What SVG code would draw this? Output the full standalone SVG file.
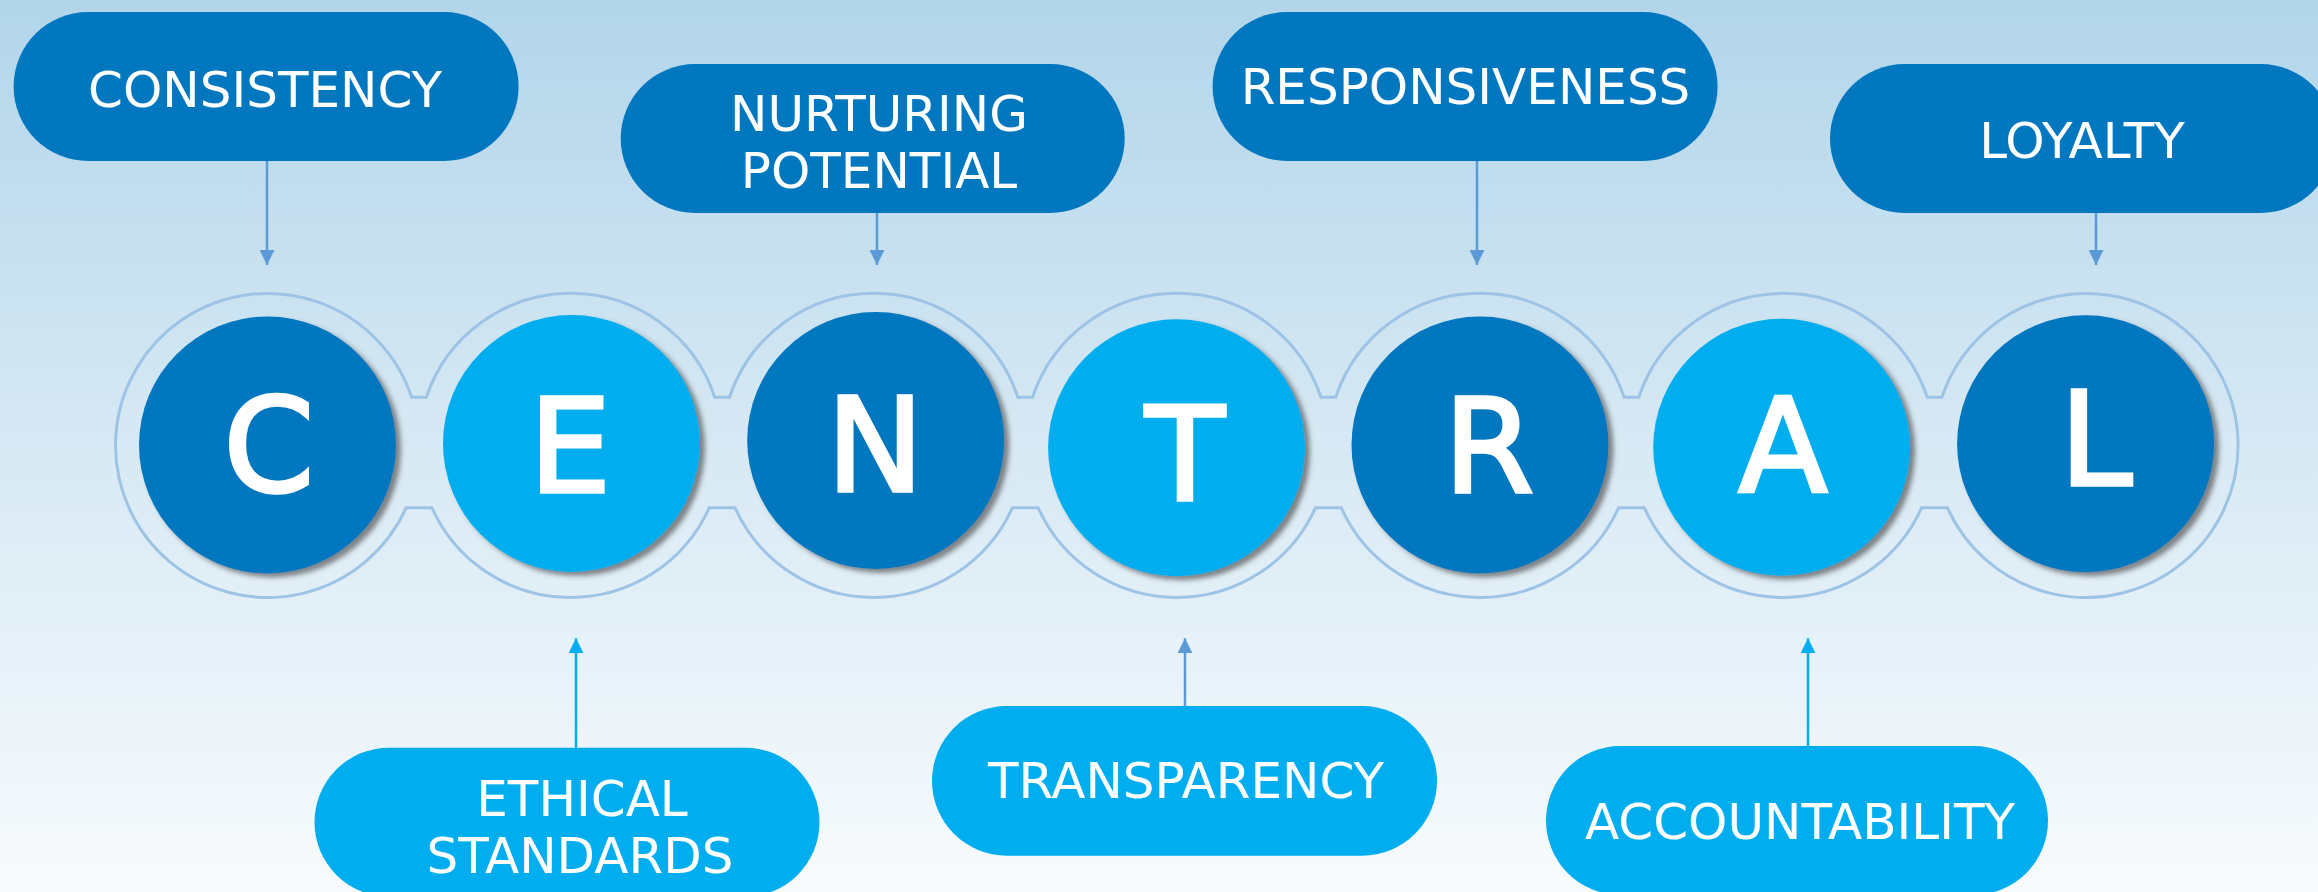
<svg xmlns="http://www.w3.org/2000/svg" width="2318" height="892" viewBox="0 0 2318 892">
  <defs>
    <linearGradient id="bg" x1="0" y1="0" x2="0" y2="1">
      <stop offset="0" stop-color="#B2D5EA"/>
      <stop offset="0.5" stop-color="#D7E9F4"/>
      <stop offset="1" stop-color="#F8FBFD"/>
    </linearGradient>
    <filter id="shadow" x="-10%" y="-10%" width="125%" height="125%">
      <feDropShadow dx="5" dy="4" stdDeviation="2.5" flood-color="#3c3c3c" flood-opacity="0.6"/>
    </filter>
    <marker id="headSteel" viewBox="0 0 15 15" refX="15" refY="7.5" markerWidth="15" markerHeight="15" markerUnits="userSpaceOnUse" orient="auto">
      <path d="M0,0 L15,7.5 L0,15 Z" fill="#5B9BD5"/>
    </marker>
    <marker id="headSky" viewBox="0 0 15 15" refX="15" refY="7.5" markerWidth="15" markerHeight="15" markerUnits="userSpaceOnUse" orient="auto">
      <path d="M0,0 L15,7.5 L0,15 Z" fill="#00AEEF"/>
    </marker>
  </defs>
  <style>
    .dark { fill: #0077BF; }
    .light { fill: #00AEEF; }
    .label { font-family: "DejaVu Sans", Verdana, sans-serif; font-size: 50px; fill: #FFFFFF; text-anchor: middle; }
    .letter { font-family: "DejaVu Sans", Verdana, sans-serif; font-size: 130px; fill: #FFFFFF; stroke: #FFFFFF; stroke-width: 3.5; stroke-linejoin: miter; text-anchor: middle; }
    .ring { fill: none; stroke: #9DC3E6; stroke-width: 3; }
    .steel { stroke: #5B9BD5; stroke-width: 2.5; fill: none; marker-end: url(#headSteel); }
    .sky { stroke: #00AEEF; stroke-width: 2.5; fill: none; marker-end: url(#headSky); }
  </style>

  <rect x="0" y="0" width="2318" height="892" fill="url(#bg)"/>

  <!-- chain of rings around the letter discs -->
  <path class="ring" d="M411.7,397.3 L426.4,397.3 A152,152 0 0 1 714.8,397.3 L729.5,397.3 A152,152 0 0 1 1017.9,397.3 L1032.6,397.3 A152,152 0 0 1 1321.0,397.3 L1335.7,397.3 A152,152 0 0 1 1624.1,397.3 L1638.8,397.3 A152,152 0 0 1 1927.2,397.3 L1941.9,397.3 A152,152 0 1 1 1947.4,507.7 L1921.7,507.7 A152,152 0 0 1 1644.3,507.7 L1618.6,507.7 A152,152 0 0 1 1341.2,507.7 L1315.5,507.7 A152,152 0 0 1 1038.1,507.7 L1012.4,507.7 A152,152 0 0 1 735.0,507.7 L709.3,507.7 A152,152 0 0 1 431.9,507.7 L406.2,507.7 A152,152 0 1 1 411.7,397.3 Z"/>

  <!-- letter discs -->
  <g id="letter-c">
    <circle class="dark" cx="267.5" cy="445" r="128.5" filter="url(#shadow)"/>
    <text class="letter" x="269" y="491">C</text>
  </g>
  <g id="letter-e">
    <circle class="light" cx="571.5" cy="443.5" r="128.5" filter="url(#shadow)"/>
    <text class="letter" x="570" y="492">E</text>
  </g>
  <g id="letter-n">
    <circle class="dark" cx="875.7" cy="440.5" r="128.5" filter="url(#shadow)"/>
    <text class="letter" x="875" y="491">N</text>
  </g>
  <g id="letter-t">
    <circle class="light" cx="1176.6" cy="447.8" r="128.5" filter="url(#shadow)"/>
    <text class="letter" x="1185" y="499.5">T</text>
  </g>
  <g id="letter-r">
    <circle class="dark" cx="1480" cy="445" r="128.5" filter="url(#shadow)"/>
    <text class="letter" x="1489" y="491.8">R</text>
  </g>
  <g id="letter-a">
    <circle class="light" cx="1781.7" cy="447.3" r="128.5" filter="url(#shadow)"/>
    <text class="letter" x="1783" y="491.2">A</text>
  </g>
  <g id="letter-l">
    <circle class="dark" cx="2085.6" cy="443.7" r="128.5" filter="url(#shadow)"/>
    <text class="letter" x="2096" y="485.2">L</text>
  </g>

  <!-- value labels -->
  <g id="consistency">
    <rect class="dark" x="13.6" y="12" width="505" height="149" rx="74.5"/>
    <text class="label" x="265" y="107">CONSISTENCY</text>
  </g>
  <g id="nurturing-potential">
    <rect class="dark" x="620.7" y="64" width="504" height="149" rx="74.5"/>
    <text class="label" x="879" y="130.7">NURTURING</text>
    <text class="label" x="879" y="188">POTENTIAL</text>
  </g>
  <g id="responsiveness">
    <rect class="dark" x="1212.6" y="12" width="505" height="149" rx="74.5"/>
    <text class="label" x="1465.5" y="104">RESPONSIVENESS</text>
  </g>
  <g id="loyalty">
    <rect class="dark" x="1830" y="64" width="505" height="149" rx="74.5"/>
    <text class="label" x="2082" y="158">LOYALTY</text>
  </g>
  <g id="ethical-standards">
    <rect class="light" x="314.5" y="747.7" width="505" height="149" rx="74.5"/>
    <text class="label" x="582" y="815.7">ETHICAL</text>
    <text class="label" x="580" y="873.3">STANDARDS</text>
  </g>
  <g id="transparency">
    <rect class="light" x="932" y="706" width="505" height="149.7" rx="74.8"/>
    <text class="label" x="1186" y="798">TRANSPARENCY</text>
  </g>
  <g id="accountability">
    <rect class="light" x="1546" y="746" width="502" height="149" rx="74.5"/>
    <text class="label" x="1800" y="839">ACCOUNTABILITY</text>
  </g>

  <!-- connectors -->
  <g id="connectors">
    <line class="steel" x1="267" y1="161" x2="267" y2="265"/>
    <line class="steel" x1="877" y1="213" x2="877" y2="265"/>
    <line class="steel" x1="1477" y1="161" x2="1477" y2="265"/>
    <line class="steel" x1="2096" y1="213" x2="2096" y2="265"/>
    <line class="sky" x1="576" y1="747.7" x2="576" y2="638.3"/>
    <line class="steel" x1="1185" y1="706" x2="1185" y2="638.3"/>
    <line class="sky" x1="1808" y1="746" x2="1808" y2="638.3"/>
  </g>
</svg>
